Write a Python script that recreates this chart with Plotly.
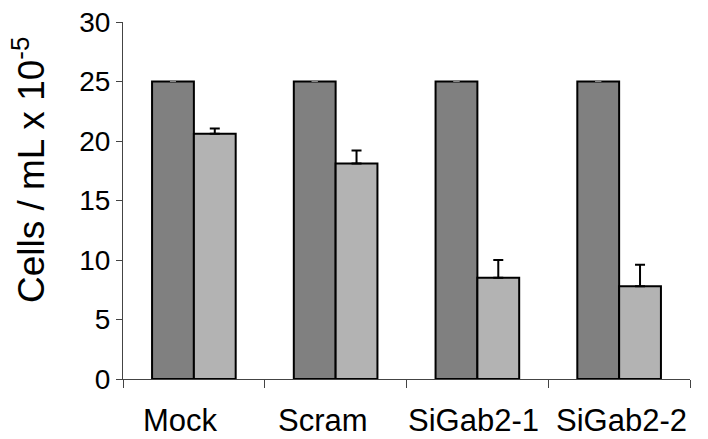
import plotly.graph_objects as go

categories = ["Mock", "Scram", "SiGab2-1", "SiGab2-2"]
control = [25, 25, 25, 25]
control_err = [0.0, 0.0, 0.0, 0.0]
treated = [20.6, 18.1, 8.5, 7.8]
treated_err = [0.45, 1.1, 1.5, 1.8]

FONT = "Liberation Sans, Arial, sans-serif"
# the original's category labels sit slightly off-centre
LABEL_XSHIFT = [-13, -13, -4, 2]

fig = go.Figure()
fig.add_trace(go.Bar(
    x=categories, y=control, name="control",
    marker=dict(color="#808080", line=dict(color="black", width=2)),
    error_y=dict(type="data", array=control_err, arrayminus=[0] * 4, symmetric=False,
                 color="#888", thickness=1, width=3),
))
fig.add_trace(go.Bar(
    x=categories, y=treated, name="treated",
    marker=dict(color="#b3b3b3", line=dict(color="black", width=2)),
    error_y=dict(type="data", array=treated_err, arrayminus=[0] * 4, symmetric=False,
                 color="black", thickness=2, width=5),
))

annotations = [dict(
    text="Cells / mL x 10<sup>-5</sup>", textangle=-90,
    xref="paper", yref="paper", x=-0.166, y=0.585,
    xanchor="center", yanchor="middle", showarrow=False,
    font=dict(size=37, color="black"),
)]
for cat, dx in zip(categories, LABEL_XSHIFT):
    annotations.append(dict(
        text=cat, x=cat, xref="x", y=0, yref="paper",
        xanchor="center", yanchor="top", yshift=-22, xshift=dx,
        showarrow=False, font=dict(size=31, color="black"),
    ))

fig.update_layout(
    width=708, height=439,
    margin=dict(l=123, r=18, t=22, b=60, autoexpand=False),
    barmode="group", bargap=0.41, bargroupgap=0,
    plot_bgcolor="white", paper_bgcolor="white",
    showlegend=False,
    font=dict(family=FONT, size=28, color="black"),
    annotations=annotations,
)
fig.update_xaxes(
    type="category", showline=True, linecolor="#444", linewidth=1.2,
    ticks="outside", tickson="boundaries", ticklen=8, tickcolor="#444",
    showgrid=False, showticklabels=False, automargin=False,
)
fig.update_yaxes(
    range=[0, 30], dtick=5, showline=True, linecolor="#444", linewidth=1.2,
    ticks="outside", ticklen=6, tickcolor="#444", showgrid=False, zeroline=False,
    tickfont=dict(size=28), automargin=False,
)

# drop the browser's default 8px body margin so the figure sits at the page corner
fig.write_html("out.html", config={"displayModeBar": False},
               post_script="document.body.style.margin = '0';")
